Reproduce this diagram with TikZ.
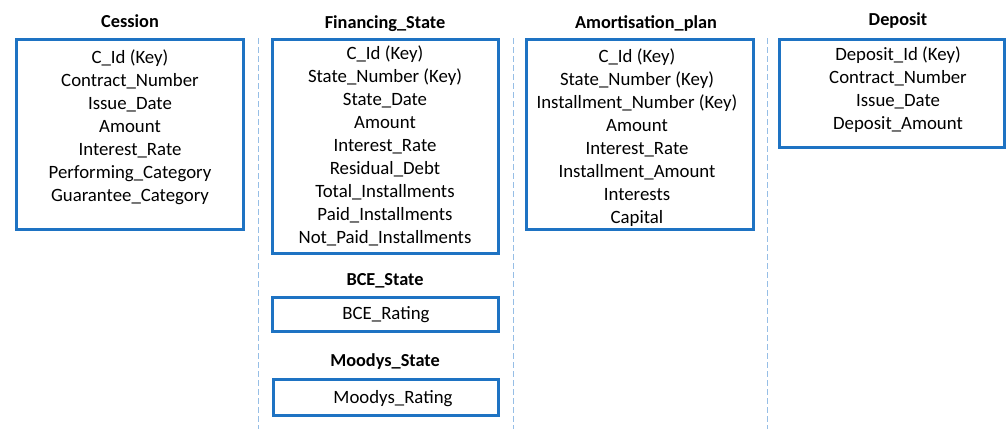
\documentclass[tikz,border=0pt]{standalone}
\usepackage{fontspec}
\setmainfont{Carlito}
\usepackage{tikz}
\usetikzlibrary{positioning}

\definecolor{boxblue}{RGB}{30,115,195}
\definecolor{dashblue}{RGB}{150,190,230}

\begin{document}
\begin{tikzpicture}[x=1pt, y=-1pt, line join=miter,
  tablebox/.style={draw=boxblue, line width=2.6pt, inner sep=0pt},
  fields/.style={align=center, inner sep=0pt, font=\fontsize{18.8}{23}\selectfont},
  tabletitle/.style={inner sep=0pt, font=\bfseries\fontsize{18.3}{22}\selectfont},
  divider/.style={draw=dashblue, line width=1pt, dash pattern=on 6pt off 3pt}]
  \useasboundingbox (0,0) rectangle (1008,429);
  %--- Cession
    \node[tablebox, minimum width=227.5pt, minimum height=190.5pt] (cession) at (130,134.5) {};
    \node[tabletitle] (cessiontitle) at (130,21) {Cession};
    \node[fields] (cessionfields) at (130,127) {C\_Id (Key)\\ Contract\_Number\\ Issue\_Date\\ Amount\\ Interest\_Rate\\ Performing\_Category\\ Guarantee\_Category};
  %--- Financing_State
    \node[tablebox, minimum width=226.5pt, minimum height=214.5pt] (financing) at (385.5,146.5) {};
    \node[tabletitle] (financingtitle) at (385,24) {Financing\_State};
    \node[fields] (financingfields) at (385,145.5) {C\_Id (Key)\\ State\_Number (Key)\\ State\_Date\\ Amount\\ Interest\_Rate\\ Residual\_Debt\\ Total\_Installments\\ Paid\_Installments\\ Not\_Paid\_Installments};
  %--- BCE_State
    \node[tablebox, minimum width=226.5pt, minimum height=34.5pt] (bce) at (385.5,314.5) {};
    \node[tabletitle] (bcetitle) at (385,281) {BCE\_State};
    \node[fields] (bcefields) at (386,315) {BCE\_Rating};
  %--- Moodys_State
    \node[tablebox, minimum width=225.5pt, minimum height=36.5pt] (moodys) at (386,397.5) {};
    \node[tabletitle] (moodystitle) at (385,362) {Moodys\_State};
    \node[fields] (moodysfields) at (393,399) {Moodys\_Rating};
  %--- Amortisation_plan
    \node[tablebox, minimum width=227.5pt, minimum height=190.5pt] (amortisation) at (640,134.5) {};
    \node[tabletitle] (amortisationtitle) at (646,24) {Amortisation\_plan};
    \node[fields] (amortisationfields) at (637,138) {C\_Id (Key)\\ State\_Number (Key)\\ Installment\_Number (Key)\\ Amount\\ Interest\_Rate\\ Installment\_Amount\\ Interests\\ Capital};
  %--- Deposit
    \node[tablebox, minimum width=225.5pt, minimum height=108.5pt] (deposit) at (892,93.5) {};
    \node[tabletitle] (deposittitle) at (898,21) {Deposit};
    \node[fields] (depositfields) at (898,89.5) {Deposit\_Id (Key)\\ Contract\_Number\\ Issue\_Date\\ Deposit\_Amount};
  %--- dividers
    \draw[divider] (258,38) -- (258,429);
    \draw[divider] (513,38) -- (513,429);
    \draw[divider] (767,38) -- (767,429);
\end{tikzpicture}
\end{document}
